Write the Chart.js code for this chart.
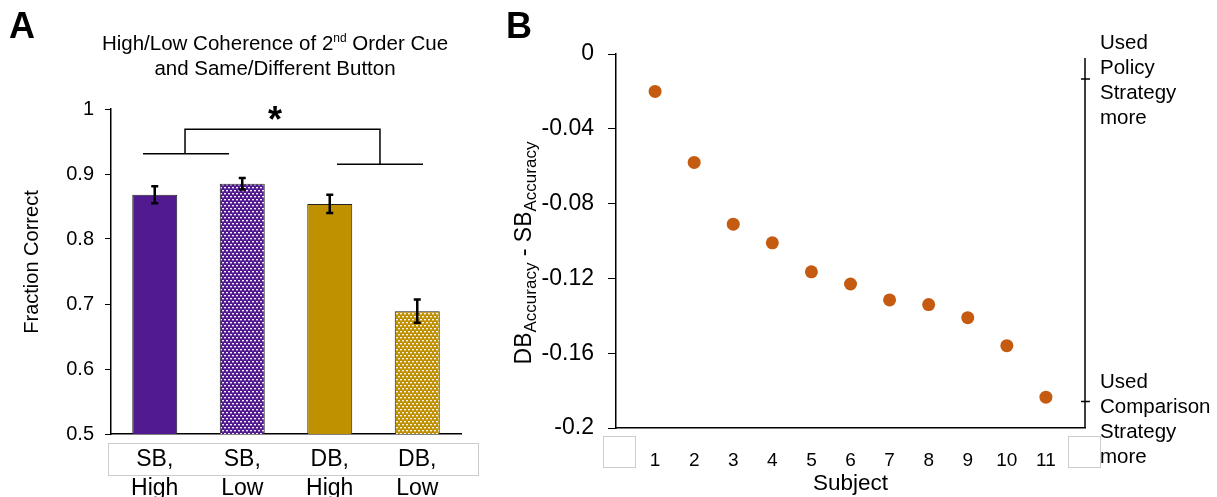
<!DOCTYPE html>
<html>
<head>
<meta charset="utf-8">
<script src="https://cdn.jsdelivr.net/npm/chart.js@4"></script>
<style>
  html, body { margin: 0; padding: 0; background: #fff; }
  #wrapA { position: absolute; left: 0; top: 0; width: 500px; height: 497px; }
  #wrapB { position: absolute; left: 500px; top: 0; width: 717px; height: 497px; }
</style>
</head>
<body>
<div id="wrapA"><canvas id="chartA" width="500" height="497"></canvas></div>
<div id="wrapB"><canvas id="chartB" width="717" height="497"></canvas></div>
<script>
// panel A data
const conditions = [['SB,', 'High'], ['SB,', 'Low'], ['DB,', 'High'], ['DB,', 'Low']];
const fractionCorrect = [0.868, 0.885, 0.854, 0.689];
const fractionError = [0.013, 0.009, 0.014, 0.018];
const yTicksA = [0.5, 0.6, 0.7, 0.8, 0.9, 1];

// panel B data
const subjects = [1, 2, 3, 4, 5, 6, 7, 8, 9, 10, 11];
const accuracyDiff = [-0.020, -0.058, -0.091, -0.101, -0.1165, -0.123, -0.1315, -0.134, -0.141, -0.156, -0.1835];
const yTicksB = [0, -0.04, -0.08, -0.12, -0.16, -0.2];

const FONT = "'Liberation Sans', Arial, sans-serif";
Chart.defaults.font.family = FONT;
Chart.defaults.color = '#000';

const PURPLE = '#521A8F';
const GOLD = '#BF9000';

// dotted fill for the "Low" bars
function makePattern(color) {
    const c = document.createElement('canvas');
    c.width = 4; c.height = 6;
    const g = c.getContext('2d');
    g.fillStyle = color;
    g.fillRect(0, 0, 4, 6);
    g.fillStyle = '#f4f0f8';
    g.fillRect(0, 1, 2, 1);
    g.fillRect(2, 4, 2, 1);
    g.fillStyle = 'rgba(255,255,255,0.35)';
    g.fillRect(0, 2, 2, 1);
    g.fillRect(2, 5, 2, 1);
    return document.getElementById('chartA').getContext('2d').createPattern(c, 'repeat');
}

// significance bracket, in category / value units
const bracket = { left: [-0.134, 0.849], leftY: 0.931, right: [2.083, 3.066], rightY: 0.915, stems: [0.346, 2.574], topY: 0.969 };

const panelAPlugin = {
    id: 'panelA',
    afterDatasetsDraw(chart) {
        const ctx = chart.ctx;
        const x = chart.scales.x, y = chart.scales.y;
        const meta = chart.getDatasetMeta(0);
        ctx.save();
        ctx.strokeStyle = '#000';
        ctx.lineWidth = 2.5;
        meta.data.forEach((bar, i) => {
            const top = y.getPixelForValue(fractionCorrect[i] + fractionError[i]);
            const bot = y.getPixelForValue(fractionCorrect[i] - fractionError[i]);
            ctx.beginPath();
            ctx.moveTo(bar.x, top); ctx.lineTo(bar.x, bot);
            ctx.moveTo(bar.x - 3.5, top); ctx.lineTo(bar.x + 3.5, top);
            ctx.moveTo(bar.x - 3.5, bot); ctx.lineTo(bar.x + 3.5, bot);
            ctx.stroke();
        });

        // bracket
        ctx.lineWidth = 1.5;
        ctx.beginPath();
        ctx.moveTo(x.getPixelForValue(bracket.left[0]), y.getPixelForValue(bracket.leftY));
        ctx.lineTo(x.getPixelForValue(bracket.left[1]), y.getPixelForValue(bracket.leftY));
        ctx.moveTo(x.getPixelForValue(bracket.right[0]), y.getPixelForValue(bracket.rightY));
        ctx.lineTo(x.getPixelForValue(bracket.right[1]), y.getPixelForValue(bracket.rightY));
        ctx.moveTo(x.getPixelForValue(bracket.stems[0]), y.getPixelForValue(bracket.leftY));
        ctx.lineTo(x.getPixelForValue(bracket.stems[0]), y.getPixelForValue(bracket.topY));
        ctx.lineTo(x.getPixelForValue(bracket.stems[1]), y.getPixelForValue(bracket.topY));
        ctx.lineTo(x.getPixelForValue(bracket.stems[1]), y.getPixelForValue(bracket.rightY));
        ctx.stroke();
        ctx.font = 'bold 36px ' + FONT;
        ctx.textAlign = 'center';
        ctx.textBaseline = 'middle';
        ctx.fillStyle = '#000';
        ctx.fillText('*', 275, 122);

        // box round the category labels
        ctx.strokeStyle = '#cccccc';
        ctx.lineWidth = 1;
        ctx.strokeRect(108.5, 443.5, 370, 32);

        // panel letter
        ctx.textAlign = 'left';
        ctx.textBaseline = 'alphabetic';
        ctx.font = 'bold 36px ' + FONT;
        ctx.fillText('A', 9, 38);

        // title with superscript
        const p1 = 'High/Low Coherence of 2', sup = 'nd', p3 = ' Order Cue';
        ctx.font = '20.5px ' + FONT;
        const w1 = ctx.measureText(p1).width, w3 = ctx.measureText(p3).width;
        ctx.font = '12px ' + FONT;
        const ws = ctx.measureText(sup).width;
        let tx = 275 - (w1 + ws + w3) / 2;
        ctx.font = '20.5px ' + FONT;
        ctx.fillText(p1, tx, 50);
        tx += w1;
        ctx.font = '12px ' + FONT;
        ctx.fillText(sup, tx, 42);
        tx += ws;
        ctx.font = '20.5px ' + FONT;
        ctx.fillText(p3, tx, 50);
        ctx.textAlign = 'center';
        ctx.fillText('and Same/Different Button', 275, 75);

        // y axis title
        ctx.translate(32, 262);
        ctx.rotate(-Math.PI / 2);
        ctx.textBaseline = 'middle';
        ctx.font = '20px ' + FONT;
        ctx.fillText('Fraction Correct', 0, 0);
        ctx.restore();
    }
};

new Chart(document.getElementById('chartA'), {
    type: 'bar',
    data: {
        labels: conditions,
        datasets: [{
            data: fractionCorrect,
            backgroundColor: [PURPLE, makePattern(PURPLE), GOLD, makePattern(GOLD)],
            borderColor: '#222',
            borderWidth: 1,
            borderSkipped: 'bottom',
            barPercentage: 0.514,
            categoryPercentage: 1
        }]
    },
    options: {
        responsive: false,
        animation: false,
        events: [],
        layout: { padding: { top: 109, right: 39, left: 0, bottom: 0 } },
        plugins: { legend: { display: false }, tooltip: { enabled: false } },
        scales: {
            x: {
                grid: { display: false },
                border: { color: '#000', width: 1.5 },
                ticks: { font: { size: 23, lineHeight: 1.27 }, padding: 3, maxRotation: 0 },
                afterFit: s => { s.height = 63; }
            },
            y: {
                min: 0.5,
                max: 1,
                afterBuildTicks: s => { s.ticks = yTicksA.map(v => ({ value: v })); },
                ticks: { font: { size: 20 }, padding: 11, callback: v => String(v) },
                grid: { drawOnChartArea: false, color: '#000', tickLength: 6 },
                border: { color: '#000', width: 1.5 },
                afterFit: s => { s.width = 111; }
            }
        }
    },
    plugins: [panelAPlugin]
});

// right-hand axis ticks, in value units
const rightAxis = { from: -0.0021, ticks: [-0.0134, -0.1858] };
const topNote = ['Used', 'Policy', 'Strategy', 'more'];
const bottomNote = ['Used', 'Comparison', 'Strategy', 'more'];

const panelBPlugin = {
    id: 'panelB',
    afterDraw(chart) {
        const ctx = chart.ctx;
        const y = chart.scales.y;
        const area = chart.chartArea;
        ctx.save();
        ctx.fillStyle = '#000';
        ctx.strokeStyle = '#000';

        // right axis
        ctx.lineWidth = 1.5;
        ctx.beginPath();
        ctx.moveTo(area.right, y.getPixelForValue(rightAxis.from));
        ctx.lineTo(area.right, area.bottom);
        rightAxis.ticks.forEach(v => {
            const py = y.getPixelForValue(v);
            ctx.moveTo(area.right - 4, py);
            ctx.lineTo(area.right + 5, py);
        });
        ctx.stroke();

        ctx.font = '20.5px ' + FONT;
        ctx.textAlign = 'left';
        ctx.textBaseline = 'middle';
        topNote.forEach((t, i) => ctx.fillText(t, 600, 43 + i * 25));
        bottomNote.forEach((t, i) => ctx.fillText(t, 600, 382 + i * 25));

        // empty grey boxes at the axis ends
        ctx.strokeStyle = '#cccccc';
        ctx.lineWidth = 1;
        ctx.strokeRect(103.5, 436.5, 32, 31);
        ctx.strokeRect(568.5, 436.5, 32, 31);

        // panel letter
        ctx.textBaseline = 'alphabetic';
        ctx.font = 'bold 36px ' + FONT;
        ctx.fillText('B', 6, 38);

        // y title with subscripts
        const parts = [['DB', 23, 0], ['Accuracy', 17, 5], [' - SB', 23, 0], ['Accuracy', 17, 5]];
        let total = 0;
        parts.forEach(p => { ctx.font = p[1] + 'px ' + FONT; total += ctx.measureText(p[0]).width; });
        ctx.translate(31, 253);
        ctx.rotate(-Math.PI / 2);
        let tx = -total / 2;
        parts.forEach(p => {
            ctx.font = p[1] + 'px ' + FONT;
            ctx.fillText(p[0], tx, p[2]);
            tx += ctx.measureText(p[0]).width;
        });
        ctx.restore();
    }
};

new Chart(document.getElementById('chartB'), {
    type: 'scatter',
    data: {
        datasets: [{
            data: subjects.map((s, i) => ({ x: s, y: accuracyDiff[i] })),
            backgroundColor: '#C55A11',
            borderWidth: 0,
            pointRadius: 6.5
        }]
    },
    options: {
        responsive: false,
        animation: false,
        events: [],
        layout: { padding: { top: 54, right: 132, left: 0, bottom: 0 } },
        plugins: { legend: { display: false }, tooltip: { enabled: false } },
        scales: {
            x: {
                min: 0,
                max: 12,
                afterBuildTicks: s => { s.ticks = subjects.map(v => ({ value: v })); },
                grid: { display: false },
                border: { color: '#000', width: 1.5 },
                ticks: { font: { size: 19 }, padding: 13, maxRotation: 0 },
                title: { display: true, text: 'Subject', font: { size: 22.5 }, padding: { top: 0, bottom: 0 } },
                afterFit: s => { s.height = 69; }
            },
            y: {
                min: -0.2,
                max: 0,
                afterBuildTicks: s => { s.ticks = yTicksB.map(v => ({ value: v })); },
                ticks: { font: { size: 23 }, padding: 14, callback: v => String(v) },
                grid: { drawOnChartArea: false, color: '#000', tickLength: 8 },
                border: { color: '#000', width: 1.5 },
                afterFit: s => { s.width = 116; }
            }
        }
    },
    plugins: [panelBPlugin]
});
</script>
</body>
</html>
